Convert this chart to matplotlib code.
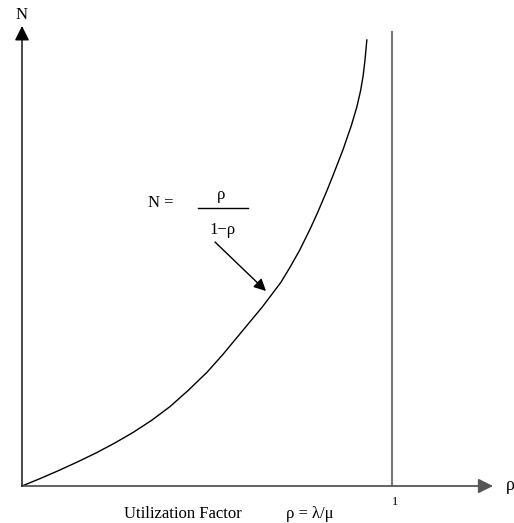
import matplotlib.pyplot as plt

plt.rcParams['font.family'] = ['Liberation Serif', 'DejaVu Serif']

# curve (rho, N in arbitrary units, top of curve = 10)
rho = [0.0, 0.05, 0.10, 0.15, 0.20, 0.25, 0.30, 0.35, 0.40, 0.45, 0.50,
       0.543, 0.60, 0.65, 0.70, 0.724, 0.75, 0.778, 0.80, 0.824, 0.84,
       0.868, 0.89, 0.905, 0.915, 0.922, 0.927, 0.932]
N = [0.0, 0.17, 0.35, 0.54, 0.74, 0.96, 1.20, 1.47, 1.78, 2.15, 2.55,
     2.95, 3.52, 4.02, 4.57, 4.90, 5.28, 5.75, 6.15, 6.62, 6.95,
     7.55, 8.08, 8.50, 8.86, 9.20, 9.55, 10.0]
limit_rho = 1.0
tick_label = "1"

W, H = 514, 523
X0, Y0 = 22, 486          # pixel position of the origin
SX, SY = 370.0, 44.6      # pixels per unit


def px(x):
    return (x - X0) / SX


def py(y):
    return (Y0 - y) / SY


fig = plt.figure(figsize=(W / 100, H / 100), dpi=100)
ax = fig.add_axes([0, 0, 1, 1])
ax.set_xlim(px(0), px(W))
ax.set_ylim(py(H), py(0))
ax.axis('off')

# axes with arrow heads
ax.annotate('', xy=(px(493), 0), xytext=(0, 0),
            arrowprops=dict(arrowstyle='-|>', color='#555555', lw=1.3,
                            mutation_scale=22, shrinkA=0, shrinkB=0))
ax.annotate('', xy=(0, py(26)), xytext=(0, 0),
            arrowprops=dict(arrowstyle='-|>', color='black', lw=1.0,
                            mutation_scale=22, shrinkA=0, shrinkB=0))

# rho = 1 asymptote
ax.plot([limit_rho, limit_rho], [py(485), py(32)], color='#777777', lw=1.5)

# N curve
ax.plot(rho, N, color='black', lw=1.0)

# labels
ax.text(0, py(15), "N", ha='center', va='center', fontsize=12)
ax.text(px(506), 0, "ρ", ha='left', va='center', fontsize=13)
ax.text(px(395), py(502), tick_label, ha='center', va='center', fontsize=9)
ax.text(px(124), py(514), "Utilization Factor", ha='left', va='center', fontsize=12)
ax.text(px(286), py(514), "ρ = λ/μ", ha='left', va='center', fontsize=12)

# formula with fraction bar
ax.text(px(148), py(203), "N =", ha='left', va='center', fontsize=12)
ax.text(px(221), py(195), "ρ", ha='center', va='center', fontsize=12)
ax.plot([px(198), px(248)], [py(208), py(208)], color='black', lw=1.0)
ax.text(px(223), py(230), "1−ρ", ha='center', va='center', fontsize=12)
ax.annotate('', xy=(px(266), py(291)), xytext=(px(215), py(242)),
            arrowprops=dict(arrowstyle='-|>', color='black', lw=1.0,
                            mutation_scale=18, shrinkA=0, shrinkB=0))

fig.savefig("out.png", dpi=100)
